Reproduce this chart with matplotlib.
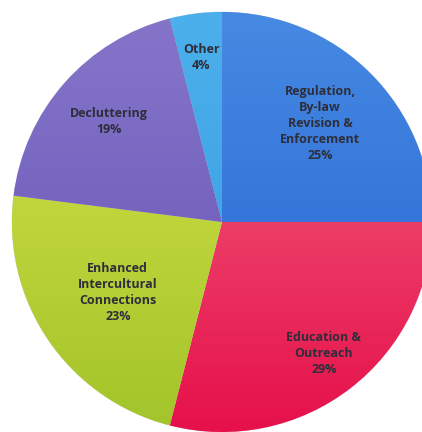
import numpy as np
import matplotlib.pyplot as plt
from matplotlib.colors import LinearSegmentedColormap


# -------------
# Chart content
labels = ["Regulation,\nBy-law\nRevision &\nEnforcement", "Education &\nOutreach",
          "Enhanced\nIntercultural\nConnections", "Decluttering", "Other"]
shares = [25, 29, 23, 19, 4]

# light (top) and dark (bottom) tone for each slice
tops = ["#468ae2", "#f26a84", "#dae44c", "#8676ca", "#4cb0ec"]
bottoms = ["#2560d2", "#e6104a", "#a2c42a", "#6252b4", "#369ae0"]

# how far out from the centre each label sits
label_r = [0.66, 0.79, 0.60, 0.72, 0.79]


# ---------
# The chart
fig = plt.figure(figsize=(4.22, 4.32), dpi=100)
ax = fig.add_axes([0, 0, 1, 1])

wedges, _ = ax.pie(shares, startangle=90, counterclock=False, radius=1.0,
                   colors=tops, wedgeprops=dict(linewidth=0.4, edgecolor="#d8d8e8"))

# shade each slice top to bottom
grad = np.linspace(0, 1, 256).reshape(-1, 1)
for w, c1, c2 in zip(wedges, tops, bottoms):
    cm = LinearSegmentedColormap.from_list("g", [c1, c2])
    im = ax.imshow(grad, cmap=cm, extent=(-1, 1, -1, 1), aspect="auto",
                   origin="upper", zorder=w.get_zorder() + 0.1)
    im.set_clip_path(w)

for w, lab, s, r in zip(wedges, labels, shares, label_r):
    mid = np.deg2rad((w.theta1 + w.theta2) / 2.0)
    ax.text(r * np.cos(mid), r * np.sin(mid), "%s\n%d%%" % (lab, s),
            ha="center", va="center", fontsize=9, fontweight="bold",
            family="Open Sans", color="#2e2e3a", linespacing=1.3, zorder=5)

ax.set_xlim(-1.057, 0.952)
ax.set_ylim(-1.0, 1.057)
ax.set_aspect("auto")
ax.axis("off")

fig.savefig("out.png", dpi=100)
